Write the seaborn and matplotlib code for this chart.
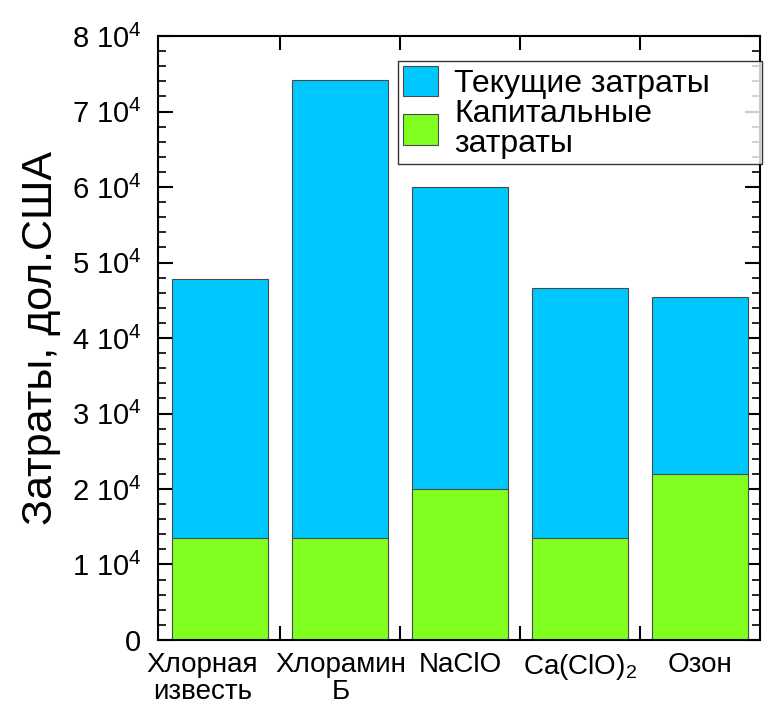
import pandas as pd
import seaborn as sns
import matplotlib
matplotlib.use('Agg')
import matplotlib.pyplot as plt
import matplotlib.transforms as mtransforms
from matplotlib.patches import Patch
from matplotlib.ticker import MultipleLocator, FixedLocator

# values
methods = ['Хлорная\nизвесть', 'Хлорамин\nБ', 'NaClO', 'Ca(ClO)$_2$', 'Озон']
capital = [13500, 13500, 20000, 13500, 22000]
current = [34300, 60700, 40000, 33100, 23400]
yticks = [0, 10000, 20000, 30000, 40000, 50000, 60000, 70000, 80000]
ytick_labels = ['0'] + [f'{k} $\\mathregular{{10^{{4}}}}$' for k in range(1, 9)]

df = pd.DataFrame({'method': methods, 'capital': capital, 'current': current})
df['total'] = df['capital'] + df['current']

sns.set_style('white')
plt.rcParams['font.family'] = ['Liberation Sans', 'DejaVu Sans']
plt.rcParams['mathtext.fontset'] = 'custom'
plt.rcParams['mathtext.rm'] = 'Liberation Sans'
plt.rcParams['mathtext.it'] = 'Liberation Sans'
for k in ('text.color', 'axes.labelcolor', 'xtick.color', 'ytick.color'):
    plt.rcParams[k] = 'black'

blue = '#00C8FF'
green = '#80FF20'

fig = plt.figure(figsize=(7.72, 7.13), dpi=100)
ax = fig.add_axes([0.2047, 0.1024, 0.78, 0.847])

sns.barplot(data=df, x='method', y='total', color=blue, width=0.8,
            edgecolor='#4a4a4a', linewidth=0.8, saturation=1, ax=ax)
sns.barplot(data=df, x='method', y='capital', color=green, width=0.8,
            edgecolor='#4a4a4a', linewidth=0.8, saturation=1, ax=ax)

ax.set_xlim(-0.52, 4.5)
ax.set_ylim(0, 80000)
ax.set_yticks(yticks)
ax.set_yticklabels(ytick_labels, fontsize=21)
ax.yaxis.set_minor_locator(MultipleLocator(2000))
ax.xaxis.set_minor_locator(FixedLocator([0.5, 1.5, 2.5, 3.5]))
ax.tick_params(axis='x', which='major', length=0, labelsize=20, pad=9)
ax.tick_params(axis='x', which='minor', direction='in', length=10, width=1.5,
               bottom=True, top=True)
ax.tick_params(axis='y', which='major', direction='in', length=11, width=1.5,
               left=True, right=True, pad=12)
ax.tick_params(axis='y', which='minor', direction='in', length=6, width=1.2,
               left=True, right=True)
for s in ax.spines.values():
    s.set_linewidth(1.5)
    s.set_color('black')

for lbl in ax.get_xticklabels():
    lbl.set_linespacing(1.05)
# first category label sits a bit left of its bar in the reference
lbl = ax.get_xticklabels()[0]
lbl.set_transform(lbl.get_transform() +
                  mtransforms.ScaledTranslation(-0.18, 0, fig.dpi_scale_trans))

ax.set_xlabel('')
ax.set_ylabel('Затраты, дол.США', fontsize=31, labelpad=8)

handles = [Patch(facecolor=blue, edgecolor='#4a4a4a', linewidth=0.8),
           Patch(facecolor=green, edgecolor='#4a4a4a', linewidth=0.8)]
leg = ax.legend(handles, ['Текущие затраты', 'Капитальные\nзатраты'],
                loc='upper left', mode='expand',
                bbox_to_anchor=(398 / 772, 1 - 167 / 713, 364 / 772, 106 / 713),
                bbox_transform=fig.transFigure, fontsize=23, frameon=True,
                fancybox=False, borderpad=0.15, labelspacing=0.0,
                handlelength=1.1, handleheight=1.1, handletextpad=0.5,
                borderaxespad=0)
leg.get_frame().set_edgecolor('black')
leg.get_frame().set_linewidth(1.0)
for t in leg.get_texts():
    t.set_linespacing(1.0)

fig.savefig('out.png', dpi=100)
